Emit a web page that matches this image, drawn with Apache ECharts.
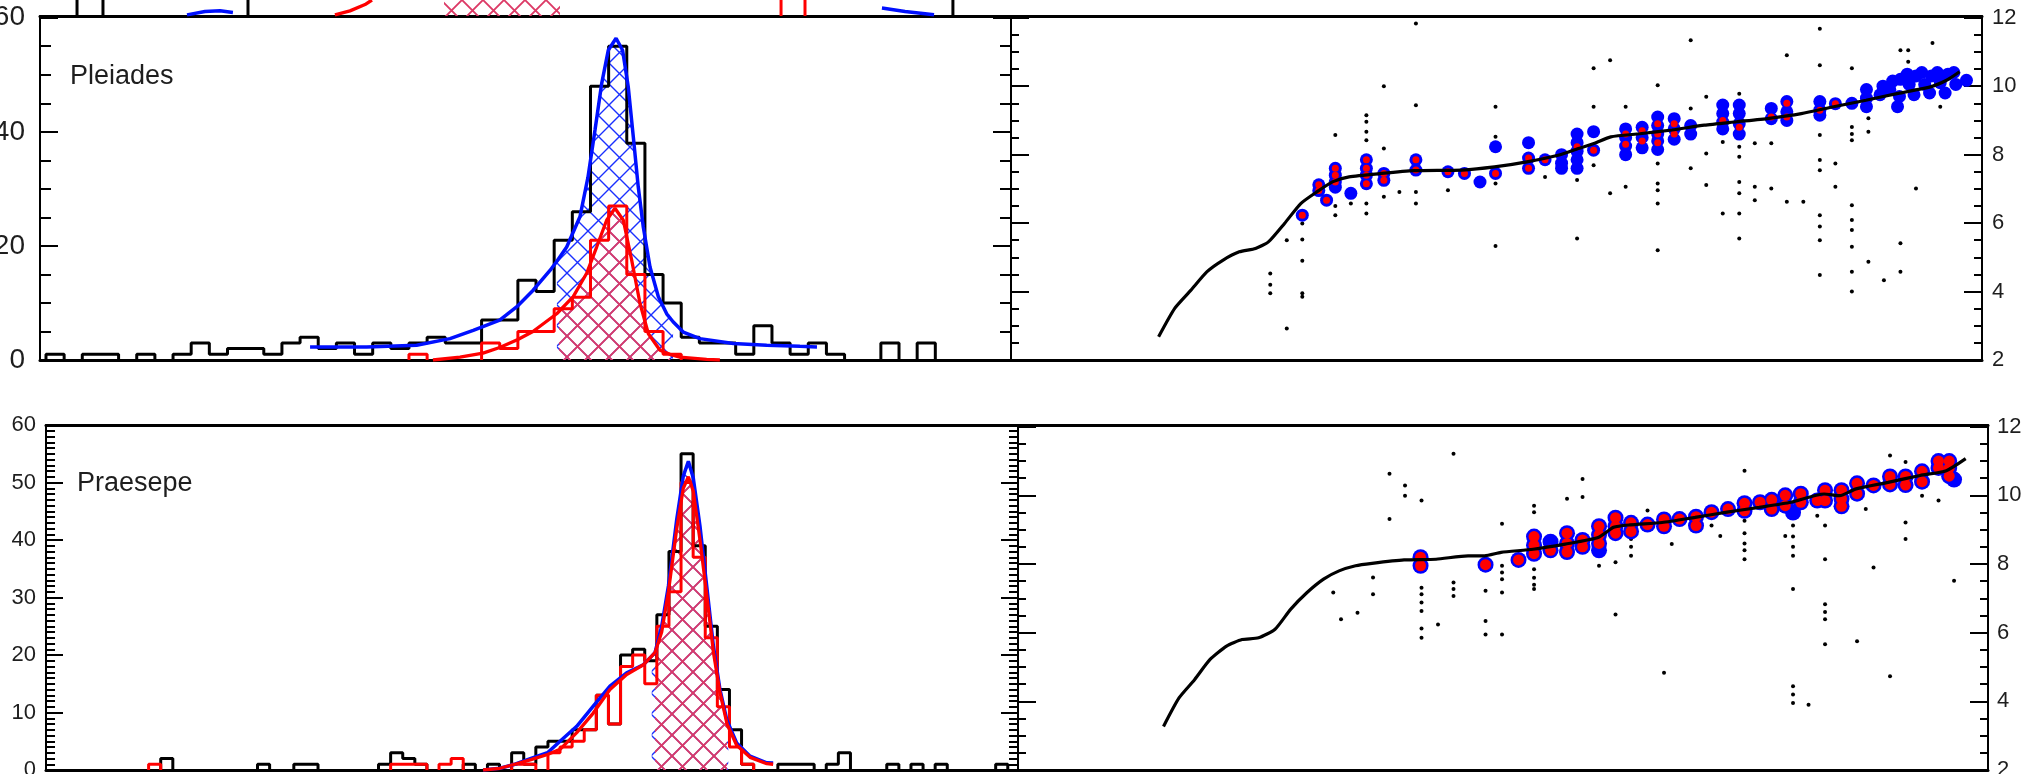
<!DOCTYPE html>
<html>
<head>
<meta charset="utf-8">
<script src="https://cdn.jsdelivr.net/npm/echarts/dist/echarts.min.js"></script>
<style>
  html, body { margin: 0; padding: 0; background: #fff; }
  #chart { width: 2023px; height: 774px; }
</style>
</head>
<body>
<div id="chart"></div>
<script>
// ---------------- Pleiades: histogram (bin width 1) ----------------
const pleiadesAll = [1,0,1,1,0,1,0,1,3,1, 2,2,1,3,4,2,3,1,3,2, 3,4,3,3,7,7,14,12,21,26,
                     48,55,38,15,10,4,3,3,1,6, 3,1,3,1,0,0,3,0,3,0, 0,0,0];
const pleiadesSel = [0,0,0,0,0,0,0,0,0,0, 0,0,0,0,0,0,0,0,0,0, 1,0,0,0,3,2,5,5,9,11,
                     21,27,15,5,1,0,0,0,0,0, 0,0,0,0,0,0,0,0,0,0, 0,0,0];
const pleiadesFitBlue = [[14.55,2.3],[17.67,2.3],[20.42,2.6],[22.26,3.75],[23.54,5.2],[25.0,7.0],
  [25.93,9.3],[26.83,12.2],[27.77,15.7],[28.15,17.3],[28.69,19.8],[29.42,25.1],[29.86,32],[30.25,40.3],
  [30.62,48.5],[30.98,54.3],[31.41,56.4],[31.77,54.3],[32.08,47.9],[32.36,39.1],[32.63,30.4],
  [32.91,23.3],[33.28,16.3],[33.74,11.1],[34.2,8.1],[34.55,6.7],[35.11,4.9],[36.03,3.75],
  [37.87,2.9],[39.71,2.6],[41.54,2.4],[42.48,2.3]];
const pleiadesFitRed = [[21.32,0],[22.81,0.5],[24.08,1.2],[25.0,2.2],[26.0,3.6],[26.83,5.0],
  [28.14,8.1],[28.26,8.5],[29.05,11.1],[29.79,15.2],[30.34,19.8],[30.89,24.5],[31.35,26.6],
  [31.81,24.5],[32.27,17.5],[32.73,9.9],[33.19,4.6],[33.83,1.7],[34.38,1.0],[34.93,0.5],
  [36.4,0.1],[37.13,0]];
const pleiadesBlueBand = [28.15, 34.55];
const pleiadesRedBand = [28.26, 34.38];

// ---------------- Praesepe: histogram (bin width 2/3) ----------------
const praesepeAll = [0,0,0,0,0,0,0,0,0,2, 0,0,0,0,0,0,0,1,0,0, 1,1,0,0,0,0,0,1,3,2,
                     1,0,0,0,1,0,1,0,3,1, 4,5,5,7,7,13,8,20,21,19, 27,38,55,39,25,14,7,1,0,0,
                     1,1,1,0,1,3,0,0,0,1, 0,1,0,1,0,0,0,0,1,0];
const praesepeSel = [0,0,0,0,0,0,0,0,1,0, 0,0,0,0,0,0,0,0,0,0, 0,0,0,0,0,0,0,0,1,1,
                     1,0,1,2,0,0,0,0,1,1, 0,3,4,5,7,13,8,18,20,15, 25,31,50,37,23,11,4,1,0,0,
                     0,0,0,0,0,0,0,0,0,0, 0,0,0,0,0,0,0,0,0,0];
const praesepeFitBlue = [[23.76,0],[24.69,0.3],[25.52,1.0],[26.4,2.0],[27.31,3.0],[28.0,5.0],
  [28.92,7.6],[29.83,11.1],[30.75,14.6],[31.67,16.9],[32.59,18.3],[33.05,19.8],[33.23,20.4],
  [33.6,25.0],[33.97,32],[34.43,43.6],[34.79,51.1],[35.07,53.7],[35.34,50.8],[35.71,42.4],
  [36.08,32],[36.45,21.5],[36.81,14],[37.18,8.8],[37.27,8.1],[37.73,4.7],[38.47,2.4],
  [39.39,1.25],[39.74,1.2]];
const praesepeFitRed = [[23.76,0],[24.69,0.3],[25.52,1.0],[26.4,1.8],[27.31,2.7],[28.0,3.6],
  [28.92,6.5],[29.83,9.9],[30.75,14.0],[31.67,16.6],[32.59,18.3],[33.23,20.4],[33.6,24.0],
  [33.97,31],[34.43,42],[34.79,49],[35.07,51],[35.34,48.5],[35.71,40],[36.08,30.5],[36.45,20.5],
  [36.81,13.5],[37.2,8.0],[37.73,4.3],[38.47,2.2],[39.39,1.1],[39.74,1.0]];
const praesepeBlueBand = [33.05, 37.27];
const praesepeRedBand = [33.23, 37.2];

// ---------------- strip of the panel above (only its lowest counts show) ----------------
const upperEdges = [1.71, 3.14, 11.13, 49.97];
const upperRedEdges = [40.5, 41.82];
const upperBlueA = [[7.77,0.2],[8.76,0.8],[9.59,0.9],[10.3,0.6]];
const upperRedA = [[15.92,0.2],[16.75,0.9],[17.58,2.0],[17.96,2.8]];
const upperBlueB = [[46.06,1.4],[47.33,0.8],[48.93,0.2]];
const upperRedBand = [21.93, 28.32];

// ---------------- Pleiades: sequence, members, field ----------------
const pleiadesSeq = [[15.2,2.68],[16.86,3.51],[18.53,4.04],[20.19,4.58],[21.85,4.92],[23.51,5.16],
  [25.18,5.26],[26.51,5.45],[28.17,5.99],[29.84,6.57],[31.49,6.91],[33.16,7.21],[34.82,7.35],
  [38.15,7.45],[41.48,7.53],[46.47,7.55],[49.79,7.64],[53.12,7.79],[56.45,7.99],[58.44,8.18],
  [60.1,8.33],[61.77,8.52],[64.76,8.61],[68.08,8.72],[71.41,8.86],[74.74,8.96],[78.06,9.06],
  [81.39,9.2],[84.72,9.4],[88.05,9.59],[91.37,9.79],[94.7,9.98],[96.4,10.18],[97.69,10.42]];
const pleiadesBlue = [[30.0,6.23],[31.7,7.12],[31.7,6.95],[32.5,6.67],[33.4,7.6],[33.4,7.4],[33.4,7.2],
  [33.4,7.05],[35.0,6.87],[36.6,7.85],[36.6,7.6],[36.6,7.4],[36.6,7.15],[38.4,7.45],[38.4,7.25],
  [41.7,7.85],[41.7,7.55],[45.0,7.5],[46.7,7.45],[48.3,7.2],[49.9,8.23],[49.9,7.45],[53.3,8.35],
  [53.3,7.9],[53.3,7.6],[55.0,7.85],[56.7,8.0],[56.7,7.75],[56.7,7.6],[58.3,8.6],[58.3,8.35],
  [58.3,8.1],[58.3,7.85],[58.3,7.6],[60.0,8.67],[60.0,8.13],[63.3,8.75],[63.3,8.5],[63.3,8.25],
  [63.3,8.0],[65.0,8.8],[65.0,8.5],[65.0,8.2],[66.6,9.1],[66.6,8.85],[66.6,8.6],[66.6,8.4],
  [66.6,8.15],[68.3,9.05],[68.3,8.75],[68.3,8.45],[70.0,8.85],[70.0,8.6],[73.3,9.45],[73.3,9.2],
  [73.3,8.95],[73.3,8.75],[75.0,9.45],[75.0,9.2],[75.0,8.9],[75.0,8.6],[78.3,9.35],[78.3,9.05],
  [79.9,9.55],[79.9,9.25],[79.9,9.0],[83.3,9.55],[83.3,9.3],[83.3,9.15],[84.9,9.49],[86.6,9.5],
  [88.1,9.9],[88.1,9.65],[88.1,9.4],[89.5,9.75],[89.8,10.0],[90.5,9.9],[90.8,10.15],[91.3,9.4],
  [91.5,9.7],[91.6,10.2],[92.3,10.35],[92.5,10.05],[93.0,9.75],[93.2,10.3],[93.8,10.4],[94.1,10.05],
  [94.6,9.8],[94.8,10.3],[95.4,10.4],[95.7,10.1],[96.2,9.8],[96.5,10.35],[97.1,10.4],[97.3,10.05],
  [98.4,10.17]];
const pleiadesRed = [[30.0,6.23],[31.7,7.12],[31.7,6.95],[32.5,6.67],[33.4,7.6],[33.4,7.4],[33.4,7.2],
  [36.6,7.85],[36.6,7.6],[36.6,7.4],[36.6,7.15],[38.4,7.45],[38.4,7.25],[41.7,7.85],[41.7,7.55],
  [45.0,7.5],[46.7,7.45],[49.9,7.45],[53.3,7.9],[53.3,7.6],[55.0,7.85],[58.3,8.23],[60.0,8.13],
  [63.3,8.6],[63.3,8.3],[65.0,8.7],[65.0,8.4],[66.6,8.9],[66.6,8.6],[66.6,8.35],[68.3,8.9],
  [68.3,8.6],[73.3,9.0],[75.0,8.8],[78.3,9.1],[79.9,9.5],[79.9,9.1],[83.3,9.3],[84.9,9.49]];
const pleiadesField = [[41.7,11.83],[38.4,10.0],[41.7,9.44],[36.6,9.15],[36.6,8.96],[36.6,8.67],
  [36.6,8.42],[33.4,8.57],[38.4,8.18],[35.0,6.57],[33.4,6.5],[33.4,6.23],[36.6,6.57],[36.6,6.28],
  [38.4,6.77],[40.0,6.91],[41.7,6.91],[41.7,6.57],[30,5.99],[30,5.52],[30,4.9],[30,3.95],[30,3.85],
  [28.4,5.5],[26.7,4.53],[26.7,4.2],[26.7,3.95],[28.4,2.92],[45,6.96],[49.9,9.4],[49.9,8.52],
  [49.9,7.16],[49.9,5.33],[55,7.35],[58.3,7.26],[58.3,5.55],[60,10.52],[60,9.4],[60,7.69],
  [61.7,10.76],[61.7,6.87],[63.3,9.4],[63.3,7.06],[66.6,10.03],[66.6,7.74],[66.6,7.16],[66.6,6.96],
  [66.6,6.57],[66.6,5.21],[70,11.34],[70,9.35],[70,7.6],[71.6,9.69],[71.6,8.03],[71.6,7.11],
  [73.3,8.37],[73.3,6.28],[75,9.78],[75,8.23],[75,7.94],[75,7.2],[75,6.87],[75,6.28],[75,5.55],
  [76.6,8.33],[76.6,7.06],[76.6,6.67],[78.3,8.33],[78.3,7.01],[79.9,10.9],[79.9,6.62],[81.6,6.62],
  [83.3,11.68],[83.3,10.61],[83.3,8.57],[83.3,7.84],[83.3,7.54],[83.3,6.23],[83.3,5.9],[83.3,5.5],
  [83.3,4.48],[84.9,7.74],[84.9,7.06],[86.6,10.52],[86.6,8.81],[86.6,8.6],[86.6,8.42],[86.6,6.52],
  [86.6,6.09],[86.6,5.8],[86.6,5.31],[86.6,4.58],[86.6,4.0],[88.3,9.06],[88.3,8.67],[88.3,4.87],
  [89.9,4.33],[91.6,11.05],[91.6,5.41],[91.6,4.58],[92.4,11.05],[92.4,10.71],[93.2,7.01],
  [94.9,11.26],[95.7,9.4]];

// ---------------- Praesepe: sequence, members, field ----------------
const praesepeSeq = [[15.0,3.27],[16.6,4.1],[18.2,4.63],[19.8,5.22],[21.5,5.61],[23.1,5.8],[24.8,5.85],
  [26.5,6.1],[28.1,6.68],[29.8,7.17],[31.5,7.56],[33.1,7.8],[34.8,7.95],[36.5,8.02],[39.8,8.12],
  [43.1,8.14],[46.4,8.24],[48.1,8.24],[49.8,8.34],[53.1,8.43],[56.4,8.58],[59.8,8.77],[61.4,9.07],
  [63.1,9.14],[66.4,9.21],[69.8,9.36],[73.1,9.51],[76.4,9.65],[79.7,9.8],[83.1,10.04],[84.7,9.99],
  [86.4,10.19],[89.7,10.38],[93.0,10.58],[95.7,10.72],[97.7,11.07]];
const praesepeBlue = [[41.5,8.2],[41.5,7.95],[48.2,7.98],[51.6,8.12],[53.2,8.8],[53.2,8.55],[53.2,8.3],
  [54.9,8.65],[54.9,8.4],[56.6,8.9],[56.6,8.6],[56.6,8.35],[58.2,8.7],[58.2,8.5],[59.9,9.1],
  [59.9,8.85],[59.9,8.6],[59.9,8.4],[61.6,9.35],[61.6,9.1],[61.6,8.9],[63.2,9.2],[63.2,8.95],
  [64.9,9.15],[66.6,9.3],[66.6,9.1],[68.2,9.31],[69.9,9.38],[69.9,9.12],[71.5,9.51],[73.2,9.6],
  [74.9,9.77],[74.9,9.55],[76.5,9.8],[77.7,9.87],[77.7,9.6],[79.1,10.0],[79.1,9.7],[79.9,9.5],
  [80.7,10.05],[80.7,9.8],[82.4,9.85],[83.2,10.15],[83.2,9.85],[84.9,10.15],[84.9,9.9],[84.9,9.68],
  [86.5,10.35],[86.5,10.05],[88.2,10.29],[89.9,10.55],[89.9,10.32],[91.5,10.55],[91.5,10.3],
  [93.2,10.7],[93.2,10.4],[94.9,11.0],[94.9,10.8],[96.0,11.0],[96.0,10.8],[96.0,10.56],[96.5,10.46]];
const praesepeRed = [[41.5,8.2],[41.5,7.95],[48.2,7.98],[51.6,8.12],[53.2,8.8],[53.2,8.55],[53.2,8.3],
  [54.9,8.4],[56.6,8.9],[56.6,8.6],[56.6,8.35],[58.2,8.7],[58.2,8.5],[59.9,9.1],[59.9,8.85],
  [59.9,8.6],[61.6,9.35],[61.6,9.1],[61.6,8.9],[63.2,9.2],[63.2,8.95],[64.9,9.15],[66.6,9.3],
  [66.6,9.1],[68.2,9.31],[69.9,9.38],[69.9,9.12],[71.5,9.51],[73.2,9.6],[74.9,9.77],[74.9,9.55],
  [76.5,9.8],[77.7,9.87],[77.7,9.6],[79.1,10.0],[79.1,9.7],[80.7,10.05],[80.7,9.8],[82.4,9.85],
  [83.2,10.15],[83.2,9.85],[84.9,10.15],[84.9,9.9],[84.9,9.68],[86.5,10.35],[86.5,10.05],
  [88.2,10.29],[89.9,10.55],[89.9,10.32],[91.5,10.55],[91.5,10.3],[93.2,10.7],[93.2,10.4],
  [94.9,11.0],[94.9,10.8],[96.0,11.0],[96.0,10.8],[96.0,10.56]];
const praesepeField = [[38.3,10.63],[38.3,9.31],[39.9,10.29],[39.9,9.99],[41.6,9.85],[44.9,11.21],
  [32.5,7.17],[33.3,6.39],[35,6.58],[36.6,7.61],[36.6,7.12],[41.6,7.31],[41.6,7.12],[41.6,6.88],
  [41.6,6.63],[41.6,6.12],[41.6,5.85],[43.3,6.24],[44.9,7.46],[44.9,7.27],[44.9,7.07],[48.2,7.22],
  [48.2,6.34],[48.2,5.95],[49.9,7.95],[49.9,7.75],[49.9,7.56],[49.9,7.17],[49.9,5.95],[49.9,9.17],
  [53.2,9.7],[53.2,9.51],[53.2,7.85],[53.2,7.6],[53.2,7.4],[53.2,7.27],[56.6,9.9],[58.2,10.48],
  [58.2,9.95],[59.9,8.24],[59.9,7.95],[61.6,8.05],[61.6,6.53],[63.2,8.73],[63.2,8.5],[63.2,8.24],
  [64.9,9.56],[66.6,4.83],[67.4,8.58],[71.5,9.12],[72.4,8.82],[74.9,10.72],[74.9,9.26],[74.9,8.9],
  [74.9,8.6],[74.9,8.4],[74.9,8.14],[79.1,8.82],[79.9,9.12],[79.9,8.8],[79.9,8.5],[79.9,8.24],
  [79.9,7.27],[79.9,4.44],[79.9,4.2],[79.9,3.95],[81.5,3.9],[82.4,9.41],[83.2,9.12],[83.2,8.14],
  [83.2,6.83],[83.2,6.6],[83.2,6.39],[83.2,5.66],[86.5,5.75],[87.4,9.6],[88.2,7.9],[89.9,11.16],
  [89.9,4.73],[91.5,10.97],[91.5,9.21],[91.5,8.73],[93.2,9.99],[94.9,9.85],[96.5,7.51]];

// ---------------- helpers ----------------
const FONT = "'Liberation Sans', Arial, Helvetica, sans-serif";
const INK = '#1e1e1e';

// outline of a histogram, one closed run per block of non-empty bins
function histOutline(counts, width) {
  const pts = [];
  let open = false;
  for (let k = 0; k < counts.length; k++) {
    const a = k * width, b = (k + 1) * width, v = counts[k];
    if (v > 0) {
      if (!open) { pts.push([a, 0]); open = true; }
      pts.push([a, v], [b, v]);
    } else if (open) {
      pts.push([a, 0], ['-', '-']);
      open = false;
    }
  }
  if (open) pts.push([counts.length * width, 0]);
  return pts;
}

// vertical strokes from 0 up to top at each x
function verticals(xs, top) {
  const pts = [];
  xs.forEach(x => { pts.push([x, 0], [x, top], ['-', '-']); });
  return pts;
}

function band(curve, range) {
  return curve.filter(p => p[0] >= range[0] - 1e-9 && p[0] <= range[1] + 1e-9);
}

function crossHatch(color, size, lw) {
  const c = document.createElement('canvas');
  c.width = size; c.height = size;
  const g = c.getContext('2d');
  g.strokeStyle = color;
  g.lineWidth = lw;
  g.beginPath();
  g.moveTo(0, 0); g.lineTo(size, size);
  g.moveTo(size, 0); g.lineTo(0, size);
  g.stroke();
  return { image: c, repeat: 'repeat' };
}

function xAxes(g, min, max, show) {
  const base = {
    gridIndex: g, type: 'value', min: min, max: max,
    axisLine: { show: show, onZero: false, lineStyle: { color: '#000', width: 3 } },
    axisTick: { show: false }, axisLabel: { show: false }, splitLine: { show: false }
  };
  return [Object.assign({ position: 'bottom' }, base), Object.assign({ position: 'top' }, base)];
}

function yAxes(g, c) {
  const make = (side, showLabel) => ({
    gridIndex: g, type: 'value', position: side, min: c.min, max: c.max, interval: c.interval,
    show: c.show !== false,
    axisLine: { onZero: false, lineStyle: { color: '#000', width: 2 } },
    axisTick: { show: true, inside: true, length: c.tick, lineStyle: { color: '#000', width: 2 } },
    minorTick: { show: true, splitNumber: c.minor, length: c.minorLen, lineStyle: { color: '#000', width: 2 } },
    splitLine: { show: false },
    axisLabel: {
      show: showLabel, margin: c.margin, color: INK, fontFamily: FONT, fontSize: c.font,
      formatter: v => (Math.abs(v / c.interval - Math.round(v / c.interval)) < 1e-6 ? String(Math.round(v)) : '')
    }
  });
  return [make('left', c.labelSide === 'left'), make('right', c.labelSide === 'right')];
}

const blueHatch = crossHatch('#1a30ff', 21, 1.4);
const redHatch = crossHatch('#dc3a66', 21, 1.9);

function lineSeries(g, data, color, w, z) {
  return {
    type: 'line', xAxisIndex: 2 * g, yAxisIndex: 2 * g, data: data, showSymbol: false, symbol: 'none',
    connectNulls: false, lineStyle: { color: color, width: w }, z: z, silent: true
  };
}
function hatchSeries(g, data, pattern, z) {
  return {
    type: 'line', xAxisIndex: 2 * g, yAxisIndex: 2 * g, data: data, symbol: 'none',
    lineStyle: { width: 0, opacity: 0 }, areaStyle: { color: pattern, opacity: 1 }, z: z, silent: true
  };
}

function histPanel(g, all, sel, width, fitBlue, fitRed, blueBand, redBand) {
  return [
    hatchSeries(g, band(fitBlue, blueBand), blueHatch, 2),
    hatchSeries(g, band(fitRed, redBand), redHatch, 3),
    lineSeries(g, histOutline(all, width), '#000', 3, 4),
    lineSeries(g, histOutline(sel, width), '#ff0000', 3, 5),
    lineSeries(g, fitBlue, '#0010ff', 3.5, 6),
    lineSeries(g, fitRed, '#ff0000', 3.3, 7)
  ];
}

function cmdPanel(g, seq, blue, red, field, blueSize, redSize) {
  const xi = 2 * g, yi = 2 * g;
  return [
    { type: 'scatter', xAxisIndex: xi, yAxisIndex: yi, data: field, symbol: 'circle', symbolSize: 4,
      itemStyle: { color: '#000', opacity: 1 }, z: 2, silent: true },
    { type: 'scatter', xAxisIndex: xi, yAxisIndex: yi, data: blue, symbol: 'circle', symbolSize: blueSize,
      itemStyle: { color: '#0000ff', opacity: 1 }, z: 3, silent: true },
    { type: 'scatter', xAxisIndex: xi, yAxisIndex: yi, data: red, symbol: 'circle', symbolSize: redSize,
      itemStyle: { color: '#ff0000', opacity: 1 }, z: 4, silent: true },
    { type: 'line', xAxisIndex: xi, yAxisIndex: yi, data: seq, symbol: 'none', smooth: 0.2,
      lineStyle: { color: '#000', width: 3.2 }, z: 5, silent: true }
  ];
}

// ---------------- layout (fixed pixel boxes, labels may run off the page edge) ----------------
const box = (left, top, width, height) =>
  ({ left: left, top: top, width: width, height: height, containLabel: false, outerBoundsMode: 'none' });
const grids = [
  box(40, 16, 971, 344),     // Pleiades histogram
  box(1011, 16, 971, 344),   // Pleiades sequence
  box(46, 425, 972, 345),    // Praesepe histogram
  box(1018, 425, 970, 345),  // Praesepe sequence
  box(40, 0, 971, 16)        // foot of the panel above
];

const xAxis = [].concat(
  xAxes(0, -0.33, 53.17, true), xAxes(1, 0, 100, true), xAxes(2, -0.32, 53.23, true),
  xAxes(3, 0, 100, true), xAxes(4, -0.33, 53.17, false)
);
const yAxis = [].concat(
  yAxes(0, { min: 0, max: 60.3, interval: 20, minor: 4, tick: 18, minorLen: 11, labelSide: 'left', font: 28, margin: 15 }),
  yAxes(1, { min: 2, max: 12.05, interval: 2, minor: 4, tick: 18, minorLen: 8, labelSide: 'right', font: 22, margin: 10 }),
  yAxes(2, { min: 0, max: 60, interval: 10, minor: 10, tick: 17, minorLen: 9, labelSide: 'left', font: 22, margin: 10 }),
  yAxes(3, { min: 2, max: 12.05, interval: 2, minor: 4, tick: 18, minorLen: 8, labelSide: 'right', font: 22, margin: 9 }),
  yAxes(4, { min: 0, max: 2.8, interval: 1, minor: 1, tick: 0, minorLen: 0, labelSide: 'none', font: 10, margin: 0, show: false })
);

const series = [].concat(
  histPanel(0, pleiadesAll, pleiadesSel, 1, pleiadesFitBlue, pleiadesFitRed, pleiadesBlueBand, pleiadesRedBand),
  cmdPanel(1, pleiadesSeq, pleiadesBlue, pleiadesRed, pleiadesField, 13, 7),
  histPanel(2, praesepeAll, praesepeSel, 2 / 3, praesepeFitBlue, praesepeFitRed, praesepeBlueBand, praesepeRedBand),
  cmdPanel(3, praesepeSeq, praesepeBlue, praesepeRed, praesepeField, 16, 11),
  [
    hatchSeries(4, [[upperRedBand[0], 2.8], [upperRedBand[1], 2.8]], redHatch, 2),
    lineSeries(4, verticals(upperEdges, 2.8), '#000', 3, 3),
    lineSeries(4, verticals(upperRedEdges, 2.8), '#ff0000', 3, 3),
    lineSeries(4, upperBlueA, '#0010ff', 3.5, 4),
    lineSeries(4, upperBlueB, '#0010ff', 3.5, 4),
    lineSeries(4, upperRedA, '#ff0000', 3.3, 4)
  ]
);

const chart = echarts.init(document.getElementById('chart'), null, { renderer: 'canvas' });
chart.setOption({
  backgroundColor: '#ffffff',
  animation: false,
  grid: grids,
  xAxis: xAxis,
  yAxis: yAxis,
  series: series,
  graphic: [
    { type: 'text', left: 70, top: 63, style: { text: 'Pleiades', font: '27px ' + FONT, fill: INK } },
    { type: 'text', left: 77, top: 470, style: { text: 'Praesepe', font: '27px ' + FONT, fill: INK } }
  ]
});
</script>
</body>
</html>
